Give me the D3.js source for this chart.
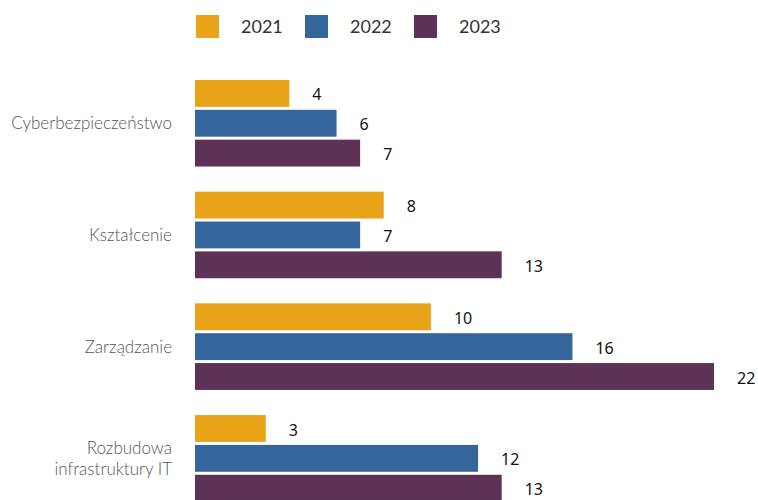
<!DOCTYPE html>
<html>
<head>
<meta charset="utf-8">
<script src="https://cdn.jsdelivr.net/npm/d3@7"></script>
<style>
  body { margin: 0; background: #fff; }
  svg { display: block; font-family: "Lato", "Open Sans", sans-serif; }
</style>
</head>
<body>
<svg id="chart" width="758" height="500"></svg>
<script>
// categories and series
let categories = ["Cyberbezpieczeństwo", "Kształcenie", "Zarządzanie", "Rozbudowa infrastruktury IT"]
let labelLines = [["Cyberbezpieczeństwo"], ["Kształcenie"], ["Zarządzanie"], ["Rozbudowa", "infrastruktury IT"]]
let years = ["2021", "2022", "2023"]
let values2021 = [4, 8, 10, 3]
let values2022 = [6, 7, 16, 12]
let values2023 = [7, 13, 22, 13]
let colors = ["#e8a318", "#34659b", "#5d3256"]

let seriesValues = [values2021, values2022, values2023]

let svg = d3.select('#chart')

let x = d3.scaleLinear().domain([0, 22]).range([195, 714])

let y0 = d3.scaleBand()
    .domain(categories)
    .range([67.4, 514.2])
    .paddingInner(0.225)
    .paddingOuter(0.1125)

let y1 = d3.scaleBand()
    .domain(years)
    .range([0, y0.bandwidth()])
    .paddingInner(0.1)

let color = d3.scaleOrdinal().domain(years).range(colors)

// legend
let legendX = [196, 305, 414]
let legend = svg.append('g')
years.forEach(function (yr, i) {
    legend.append('rect')
        .attr('x', legendX[i]).attr('y', 15)
        .attr('width', 23).attr('height', 23)
        .attr('fill', color(yr))
    legend.append('text')
        .attr('x', legendX[i] + 45).attr('y', 27)
        .attr('dy', '0.35em')
        .style('font-size', '18px')
        .style('fill', '#333')
        .text(yr)
})

// flatten to bars
let rows = []
categories.forEach(function (cat, ci) {
    years.forEach(function (yr, si) {
        rows.push({ cat: cat, year: yr, value: seriesValues[si][ci] })
    })
})

let groups = svg.append('g')

groups.selectAll('.bar')
    .data(rows)
    .enter().append('rect')
    .attr('class', 'bar')
    .attr('x', x(0))
    .attr('y', function (d) { return y0(d.cat) + y1(d.year); })
    .attr('width', function (d) { return x(d.value) - x(0); })
    .attr('height', y1.bandwidth())
    .attr('fill', function (d) { return color(d.year); })

groups.selectAll('.val')
    .data(rows)
    .enter().append('text')
    .attr('class', 'val')
    .attr('x', function (d) { return x(d.value) + 23; })
    .attr('y', function (d) { return y0(d.cat) + y1(d.year) + y1.bandwidth() / 2 + 1.5; })
    .attr('dy', '0.35em')
    .style('font-family', '"Noto Sans", sans-serif')
    .style('font-size', '16px')
    .style('fill', '#111')
    .text(function (d) { return d.value; })

// category labels
categories.forEach(function (cat, ci) {
    let lines = labelLines[ci]
    let cy = y0(cat) + y0.bandwidth() / 2
    let t = svg.append('text')
        .attr('text-anchor', 'end')
        .style('font-size', '17px')
        .style('font-weight', 300)
        .style('fill', '#555')
    lines.forEach(function (ln, li) {
        t.append('tspan')
            .attr('x', 172)
            .attr('y', cy + (li - (lines.length - 1) / 2) * 21)
            .attr('dy', '0.35em')
            .text(ln)
    })
})
</script>
</body>
</html>
